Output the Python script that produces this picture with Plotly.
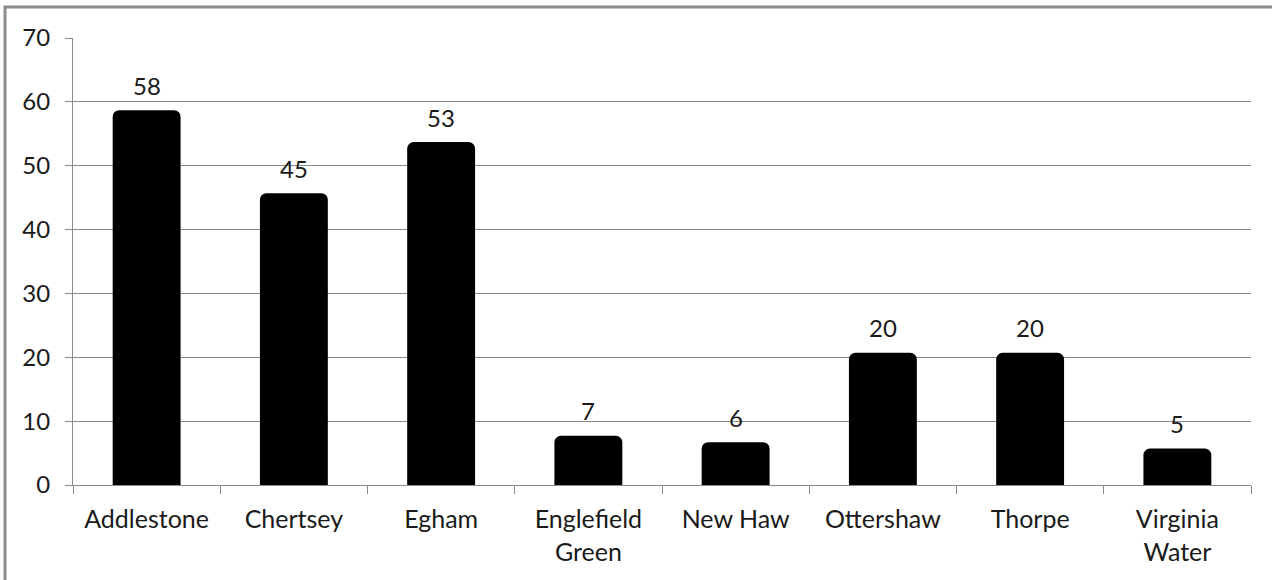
import plotly.graph_objects as go

categories = ["Addlestone", "Chertsey", "Egham", "Englefield<br>Green", "New Haw",
              "Ottershaw", "Thorpe", "Virginia<br>Water"]
values = [58, 45, 53, 7, 6, 20, 20, 5]
y_ticks = [0, 10, 20, 30, 40, 50, 60, 70]

FONT = "Lato, 'Open Sans', sans-serif"
GRID = "#8a8a8a"
TXT = "#1a1a1a"

fig = go.Figure()
fig.add_trace(go.Bar(
    x=categories, y=values,
    marker=dict(color="black", line=dict(color="black", width=9), cornerradius=2),
    hoverinfo="x+y",
))

for c, v in zip(categories, values):
    fig.add_annotation(x=c, y=v, text=str(v), showarrow=False, yanchor="bottom",
                       yshift=13, font=dict(family=FONT, size=24, color=TXT))

# chart border (Excel-like frame)
fig.add_shape(type="rect", xref="paper", yref="paper", xanchor=0, yanchor=1,
              xsizemode="pixel", ysizemode="pixel", x0=-68, x1=3000, y0=-3000, y1=31,
              line=dict(color="#8c8c8c", width=3), fillcolor="rgba(0,0,0,0)", layer="above")

fig.update_layout(
    width=1272, height=580,
    margin=dict(l=73, r=21, t=38, b=95),
    paper_bgcolor="white", plot_bgcolor="white",
    bargap=0.6, showlegend=False,
    font=dict(family=FONT, size=24, color=TXT),
)
fig.update_xaxes(
    showline=True, linecolor=GRID, linewidth=1,
    ticks="outside", tickson="boundaries", ticklen=8, tickcolor=GRID,
    showgrid=False, ticklabelstandoff=12,
    tickfont=dict(family=FONT, size=25, color=TXT),
)
fig.update_yaxes(
    range=[0, 70], tickvals=y_ticks, showline=True, linecolor=GRID, linewidth=1,
    ticks="outside", ticklen=7, tickcolor=GRID, showgrid=True, gridcolor=GRID,
    gridwidth=1, zeroline=False, ticklabelstandoff=10,
    tickfont=dict(family=FONT, size=24, color=TXT),
)

fig.write_html("out.html")
